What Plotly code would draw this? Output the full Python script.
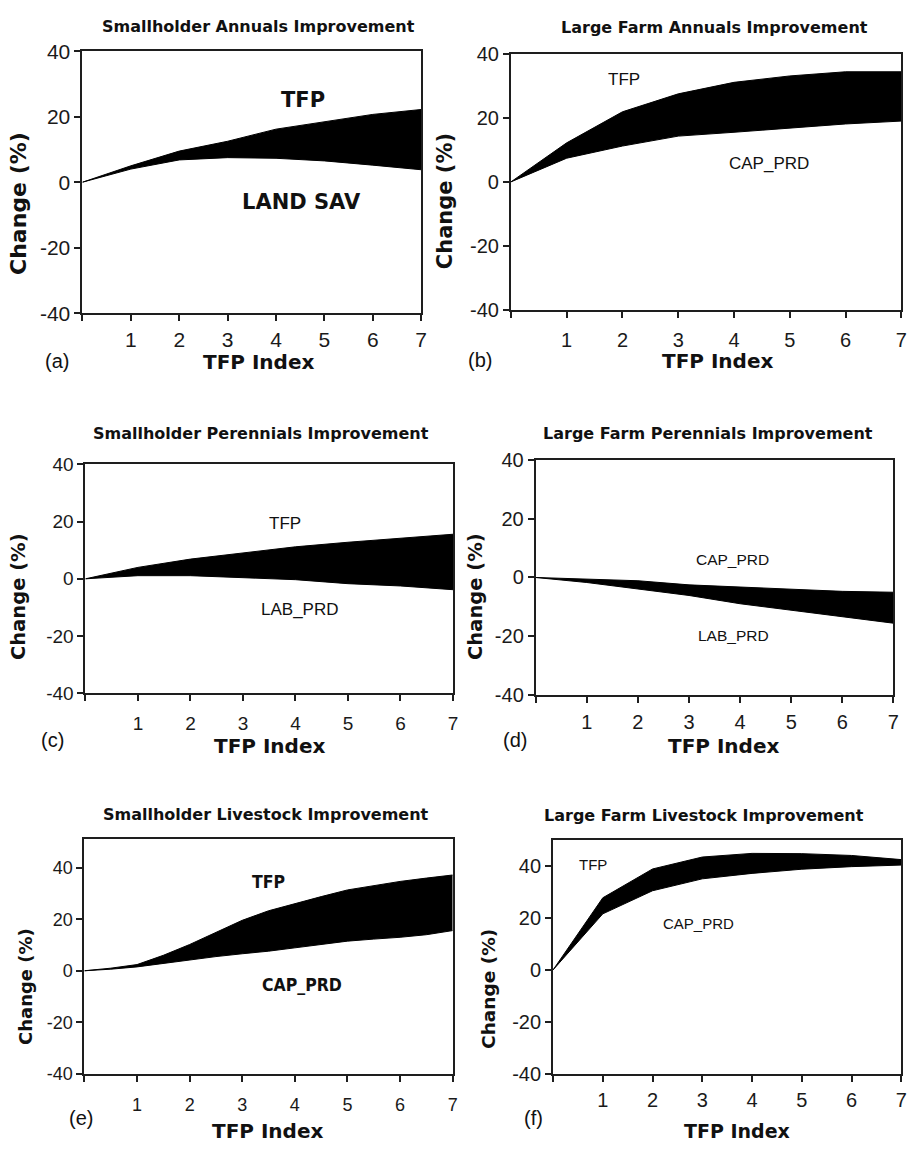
import plotly.graph_objects as go

W, H = 912, 1154

# ---------------- data ----------------
tfp_index = [0, 1, 2, 3, 4, 5, 6, 7]
tfp_index_half = [0, 0.5, 1, 1.5, 2, 2.5, 3, 3.5, 4, 4.5, 5, 5.5, 6, 6.5, 7]
x_tick_vals = [0, 1, 2, 3, 4, 5, 6, 7]
x_tick_text = ["", "1", "2", "3", "4", "5", "6", "7"]
y_tick_vals = [-40, -20, 0, 20, 40]
y_tick_text = ["-40", "-20", "0", "20", "40"]

a_tfp = [0, 5.0, 9.5, 12.5, 16.2, 18.5, 20.7, 22.2]
a_land_sav = [0, 4.0, 6.8, 7.5, 7.3, 6.5, 5.2, 3.8]

b_tfp = [0, 12.2, 21.9, 27.5, 31.1, 33.1, 34.4, 34.4]
b_cap_prd = [0, 7.4, 11.2, 14.3, 15.5, 16.8, 18.1, 19.0]

c_tfp = [0, 4.0, 6.9, 9.1, 11.2, 12.8, 14.3, 15.6]
c_lab_prd = [0, 1.1, 1.1, 0.3, -0.3, -1.7, -2.5, -3.8]

d_cap_prd = [0, -0.6, -1.1, -2.5, -3.3, -3.9, -4.7, -5.0]
d_lab_prd = [0, -1.7, -3.9, -6.1, -8.9, -11.1, -13.3, -15.5]

e_tfp = [0, 1.0, 2.4, 6.0, 10.2, 15.0, 19.6, 23.3, 26.2, 28.8, 31.4, 33.1, 34.7, 36.0, 37.2]
e_cap_prd = [0, 0.6, 1.5, 2.8, 4.3, 5.5, 6.6, 7.6, 8.9, 10.3, 11.5, 12.3, 13.0, 14.0, 15.6]

f_tfp = [0, 27.8, 38.9, 43.5, 44.9, 44.8, 44.1, 42.5]
f_cap_prd = [0, 21.6, 30.5, 35.1, 37.2, 38.8, 39.8, 40.4]

titles = ["Smallholder Annuals Improvement", "Large Farm Annuals Improvement",
          "Smallholder Perennials Improvement", "Large Farm Perennials Improvement",
          "Smallholder Livestock Improvement", "Large Farm Livestock Improvement"]
panel_tags = ["(a)", "(b)", "(c)", "(d)", "(e)", "(f)"]

# ---------------- layout config ----------------
BOLD = "DejaVu Sans"
REG = "Liberation Sans, Arial, sans-serif"
NARROW = "Liberation Sans Narrow, DejaVu Sans Condensed, Liberation Sans"
LINE = "#1e1e1e"

panels = [
    dict(x=tfp_index, hi=a_tfp, lo=a_land_sav, box=(83, 424, 40, 307.3), yr=[-40, 40],
         title_xy=(260.5, 15), tag_xy=(57, 356), xt_xy=(260, 357), yt_xy=(18, 195),
         tickfs=21, ytfs=22, xtfs=20, stand=1,
         labels=[("TFP", 4.56, 25.1, 21, BOLD, True), ("LAND SAV", 4.52, -6.0, 21, BOLD, True)]),
    dict(x=tfp_index, hi=b_tfp, lo=b_cap_prd, box=(514.3, 907.3, 42.7, 304), yr=[-40, 40],
         title_xy=(719, 16), tag_xy=(483, 355), xt_xy=(722, 356), yt_xy=(448, 193),
         tickfs=20, ytfs=21, xtfs=20, stand=5,
         labels=[("TFP", 2.03, 31.9, 17, REG, False), ("CAP_PRD", 4.63, 5.9, 17, REG, False)]),
    dict(x=tfp_index, hi=c_tfp, lo=c_lab_prd, box=(86, 456, 461.7, 695), yr=[-40, 40],
         title_xy=(262.5, 430), tag_xy=(53, 743), xt_xy=(271, 749), yt_xy=(18, 596),
         tickfs=19, ytfs=19.5, xtfs=20, stand=6,
         labels=[("TFP", 3.8, 19.4, 17, REG, False), ("LAB_PRD", 4.08, -10.9, 17, REG, False)]),
    dict(x=tfp_index, hi=d_cap_prd, lo=d_lab_prd, box=(539.3, 899.3, 456.7, 697.3), yr=[-40, 40],
         title_xy=(713, 430), tag_xy=(518, 743), xt_xy=(728, 749), yt_xy=(478, 596),
         tickfs=20, ytfs=19.5, xtfs=20, stand=2,
         labels=[("CAP_PRD", 3.85, 6.2, 15.5, REG, False), ("LAB_PRD", 3.88, -19.6, 15.5, REG, False)]),
    dict(x=tfp_index_half, hi=e_tfp, lo=e_cap_prd, box=(85, 455.7, 844.3, 1083.3), yr=[-40, 51],
         title_xy=(268, 819), tag_xy=(82, 1128), xt_xy=(269.5, 1142), yt_xy=(25, 994),
         tickfs=18, ytfs=18, xtfs=20, stand=8,
         labels=[("TFP", 3.49, 34.3, 17.5, NARROW, True), ("CAP_PRD", 4.13, -5.7, 17.5, NARROW, True)]),
    dict(x=tfp_index, hi=f_tfp, lo=f_cap_prd, box=(556.7, 907.3, 845, 1083.3), yr=[-40, 50],
         title_xy=(709, 820), tag_xy=(537, 1128), xt_xy=(742, 1142), yt_xy=(491, 997),
         tickfs=20, ytfs=18.5, xtfs=19, stand=1,
         labels=[("TFP", 0.8, 40.6, 15, REG, False), ("CAP_PRD", 2.93, 17.9, 15, REG, False)]),
]

fig = go.Figure()
annotations = []


def px_ann(text, x, y, size, family, bold=False, angle=0):
    return dict(text=f"<b>{text}</b>" if bold else text, x=x / W, y=1 - y / H,
                xref="paper", yref="paper", xanchor="center", yanchor="middle",
                showarrow=False, textangle=angle,
                font=dict(family=family, size=size, color="#111"))


layout_axes = {}
for i, p in enumerate(panels, start=1):
    xs = "" if i == 1 else str(i)
    l, r, t, b = p["box"]
    fig.add_trace(go.Scatter(x=p["x"], y=p["lo"], mode="lines",
                             line=dict(color="black", width=1),
                             xaxis=f"x{xs}", yaxis=f"y{xs}", showlegend=False, hoverinfo="skip"))
    fig.add_trace(go.Scatter(x=p["x"], y=p["hi"], mode="lines", fill="tonexty",
                             fillcolor="black", line=dict(color="black", width=1),
                             xaxis=f"x{xs}", yaxis=f"y{xs}", showlegend=False, hoverinfo="skip"))
    common = dict(showline=True, linecolor=LINE, linewidth=2, mirror=True, showgrid=False,
                  zeroline=False, ticks="outside", ticklen=6, tickwidth=1.5, tickcolor=LINE,
                  tickfont=dict(family=REG, size=p["tickfs"], color="#1a1a1a"))
    layout_axes[f"xaxis{xs}"] = dict(domain=[l / W, r / W], range=[0, 7], anchor=f"y{xs}",
                                     tickmode="array", tickvals=x_tick_vals, ticktext=x_tick_text,
                                     ticklabelstandoff=p["stand"], **common)
    layout_axes[f"yaxis{xs}"] = dict(domain=[1 - b / H, 1 - t / H], range=p["yr"], anchor=f"x{xs}",
                                     tickmode="array", tickvals=y_tick_vals, ticktext=y_tick_text,
                                     **common)
    annotations.append(px_ann(titles[i - 1], *p["title_xy"], 16, BOLD, bold=True))
    annotations.append(px_ann(panel_tags[i - 1], *p["tag_xy"], 20, REG))
    annotations.append(px_ann("TFP Index", *p["xt_xy"], p["xtfs"], BOLD, bold=True))
    annotations.append(px_ann("Change (%)", *p["yt_xy"], p["ytfs"], BOLD, bold=True, angle=-90))
    for (txt, lx, ly, fs, fam, bold) in p["labels"]:
        annotations.append(dict(text=f"<b>{txt}</b>" if bold else txt, x=lx, y=ly,
                                xref=f"x{xs}", yref=f"y{xs}", showarrow=False,
                                xanchor="center", yanchor="middle",
                                font=dict(family=fam, size=fs, color="#111")))

fig.update_layout(width=W, height=H, margin=dict(l=0, r=0, t=0, b=0),
                  paper_bgcolor="white", plot_bgcolor="white",
                  annotations=annotations, **layout_axes)

fig.write_html("out.html", post_script="document.body.style.margin='0';")
